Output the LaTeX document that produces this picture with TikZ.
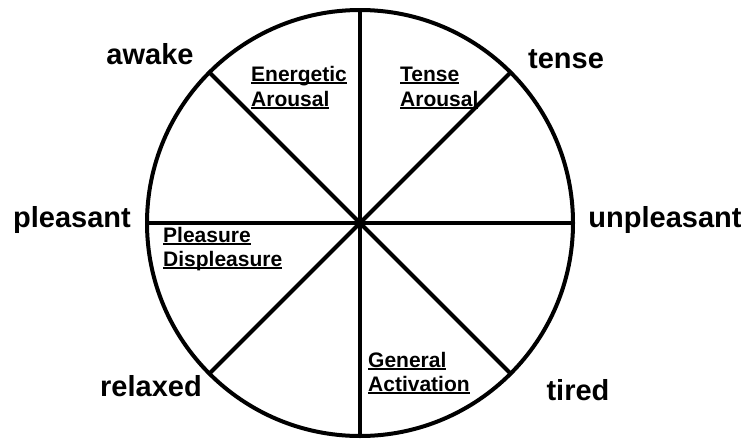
\documentclass[tikz,border=0pt]{standalone}
\usepackage{fontspec}
\setmainfont{Liberation Sans}
\newcommand\myul[1]{\setbox0\hbox{#1}\rlap{\rule[-2.8pt]{\wd0}{1.4pt}}#1}
\begin{document}
\begin{tikzpicture}[x=1pt,y=-1pt,
  outer/.style={font=\fontsize{29}{32}\selectfont\bfseries, inner sep=0pt, anchor=base},
  inner/.style={font=\fontsize{21}{24}\selectfont\bfseries, inner sep=0pt, anchor=base west},
  spoke/.style={line width=4pt}]
\useasboundingbox (0,0) rectangle (741,442);
\node[circle, draw, line width=4pt, minimum size=426pt, inner sep=0pt, outer sep=0pt] (c) at (360,223) {};
\draw[spoke] (c.north) -- (c.south);
\draw[spoke] (c.west) -- (c.east);
\draw[spoke] (c.north west) -- (c.south east);
\draw[spoke] (c.north east) -- (c.south west);
% outer labels
\node[outer] (awake) at (150,64) {awake};
\node[outer] (tense) at (566,68) {tense};
\node[outer] (pleasant) at (72,227) {pleasant};
\node[outer] (unpleasant) at (665,227) {unpleasant};
\node[outer] (relaxed) at (151,396) {relaxed};
\node[outer] (tired) at (578,400) {tired};
% inner labels
\node[inner] (ea1) at (251,81) {\myul{Energetic}};
\node[inner] (ea2) at (251,106) {\myul{Arousal}};
\node[inner] (ta1) at (400,81) {\myul{Tense}};
\node[inner] (ta2) at (400,106) {\myul{Arousal}};
\node[inner] (pd1) at (163,242) {\myul{Pleasure}};
\node[inner] (pd2) at (163,266) {\myul{Displeasure}};
\node[inner] (ga1) at (368,367) {\myul{General}};
\node[inner] (ga2) at (368,391) {\myul{Activation}};
\end{tikzpicture}
\end{document}
